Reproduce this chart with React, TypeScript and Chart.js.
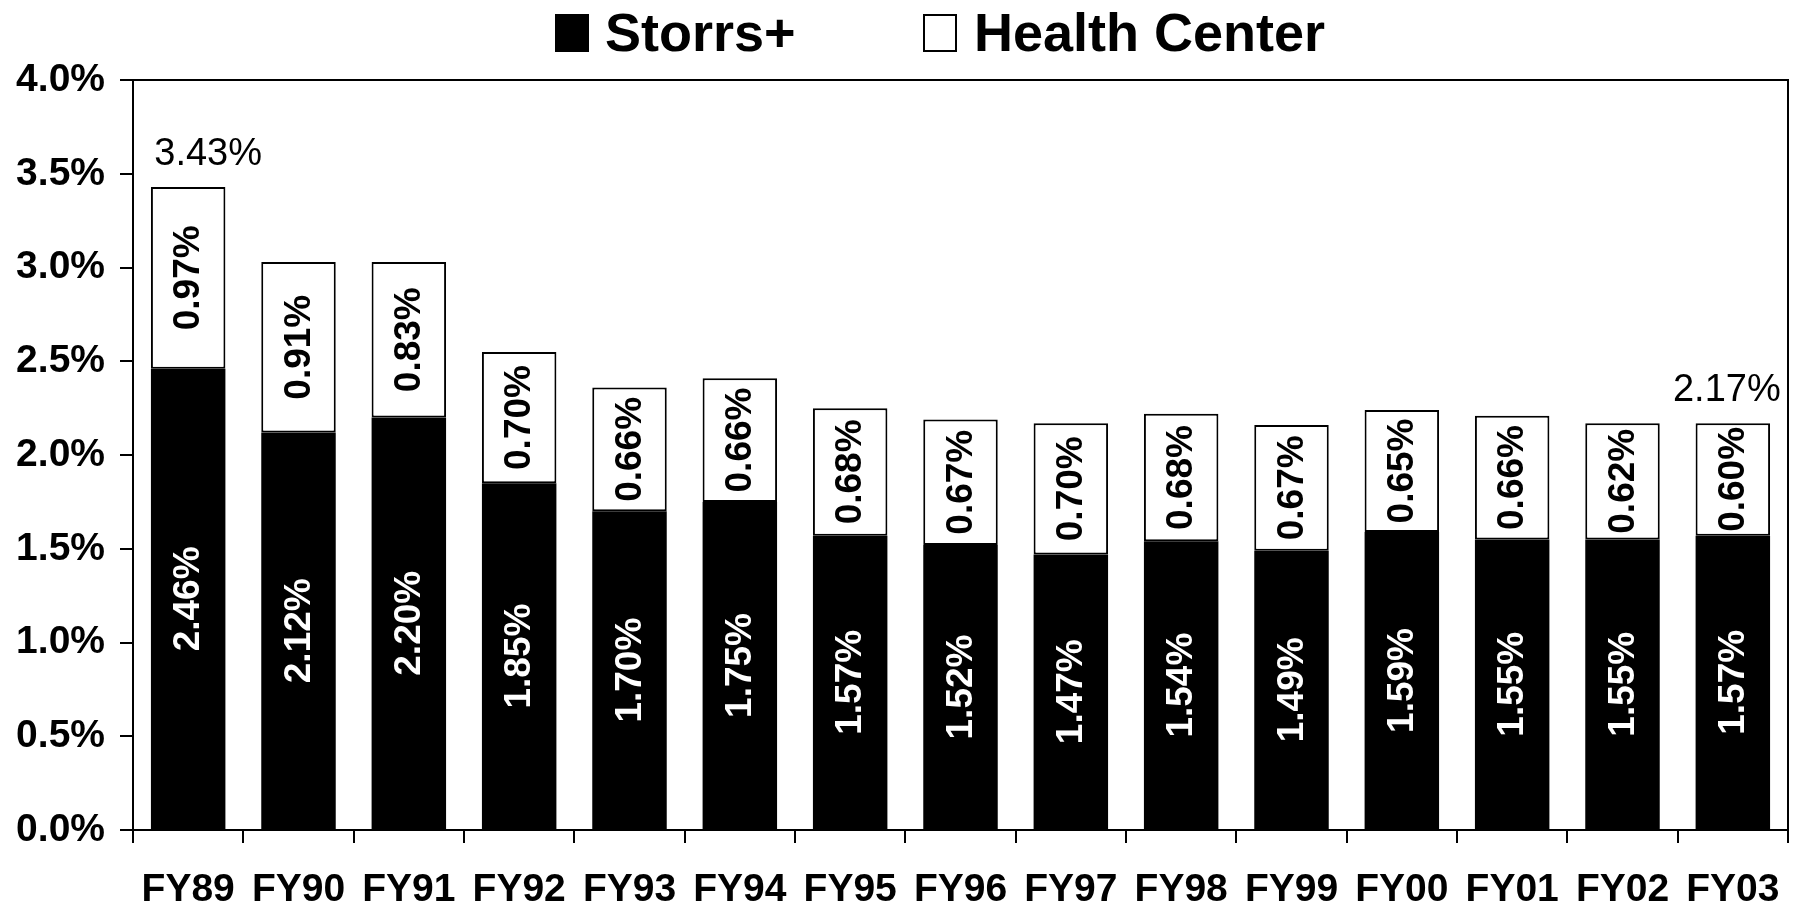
import { useEffect, useRef } from "react";
import { Chart, registerables } from "chart.js";

Chart.register(...registerables);

const categories = ["FY89", "FY90", "FY91", "FY92", "FY93", "FY94", "FY95", "FY96", "FY97", "FY98", "FY99", "FY00", "FY01", "FY02", "FY03"];
const storrsValues = [2.46, 2.12, 2.2, 1.85, 1.7, 1.75, 1.57, 1.52, 1.47, 1.54, 1.49, 1.59, 1.55, 1.55, 1.57];
const healthCenterValues = [0.97, 0.91, 0.83, 0.7, 0.66, 0.66, 0.68, 0.67, 0.7, 0.68, 0.67, 0.65, 0.66, 0.62, 0.6];
const totalLabels: (string | null)[] = ["3.43%", null, null, null, null, null, null, null, null, null, null, null, null, null, "2.17%"];
const seriesNames = ["Storrs+", "Health Center"];
const yMin = 0;
const yMax = 4;
const yStep = 0.5;

const FONT = '"Liberation Sans", Arial, Helvetica, sans-serif';

const segmentLabelPlugin = {
  id: "segmentLabels",
  afterDatasetsDraw(chart: any) {
    const ctx = chart.ctx;
    chart.data.datasets.forEach((ds: any, di: number) => {
      const meta = chart.getDatasetMeta(di);
      meta.data.forEach((el: any, i: number) => {
        const v = ds.data[i];
        const { x, y, base } = el.getProps(["x", "y", "base"], true);
        const cy = (y + base) / 2;
        ctx.save();
        ctx.translate(x, cy);
        ctx.rotate(-Math.PI / 2);
        ctx.font = `bold 37px ${FONT}`;
        ctx.fillStyle = di === 0 ? "#ffffff" : "#000000";
        ctx.textAlign = "center";
        ctx.textBaseline = "middle";
        ctx.fillText(v.toFixed(2) + "%", 0, 1);
        ctx.restore();
      });
    });
    // totals above selected bars
    const topMeta = chart.getDatasetMeta(chart.data.datasets.length - 1);
    const shifts: Record<number, number> = { 0: 20, [totalLabels.length - 1]: -6 };
    totalLabels.forEach((t, i) => {
      if (!t) return;
      const el = topMeta.data[i];
      const { x, y } = el.getProps(["x", "y"], true);
      ctx.save();
      ctx.font = `38px ${FONT}`;
      ctx.fillStyle = "#000";
      ctx.textAlign = "center";
      ctx.textBaseline = "alphabetic";
      ctx.fillText(t, x + (shifts[i] || 0), y - 22);
      ctx.restore();
    });
  },
};

const frameAndLegendPlugin = {
  id: "frameAndLegend",
  afterDraw(chart: any) {
    const ctx = chart.ctx;
    const a = chart.chartArea;
    ctx.save();
    ctx.strokeStyle = "#000";
    ctx.lineWidth = 2;
    ctx.beginPath();
    ctx.moveTo(a.left, a.top);
    ctx.lineTo(a.right, a.top);
    ctx.lineTo(a.right, a.bottom);
    ctx.stroke();

    // legend
    const items = [
      { box: 555, text: 605, fill: "#000" },
      { box: 923, text: 974, fill: "#fff" },
    ];
    items.forEach((it, i) => {
      ctx.fillStyle = it.fill;
      ctx.fillRect(it.box, 14, 34, 38);
      ctx.strokeStyle = "#000";
      ctx.lineWidth = 2;
      ctx.strokeRect(it.box + 1, 15, 32, 36);
      ctx.fillStyle = "#000";
      ctx.font = `bold 54px ${FONT}`;
      ctx.textAlign = "left";
      ctx.textBaseline = "alphabetic";
      ctx.fillText(seriesNames[i], it.text, 51);
    });
    ctx.restore();
  },
};

export default function App() {
  const ref = useRef<HTMLCanvasElement | null>(null);

  useEffect(() => {
    if (!ref.current) return;
    Chart.defaults.font.family = FONT;
    const chart = new Chart(ref.current, {
      type: "bar",
      data: {
        labels: categories,
        datasets: [
          {
            label: seriesNames[0],
            data: storrsValues,
            backgroundColor: "#000000",
            borderColor: "#000000",
            borderWidth: 0,
            barPercentage: 0.675,
            categoryPercentage: 1,
          },
          {
            label: seriesNames[1],
            data: healthCenterValues,
            backgroundColor: "#ffffff",
            borderColor: "#000000",
            borderWidth: 2,
            borderSkipped: false,
            barPercentage: 0.675,
            categoryPercentage: 1,
          },
        ],
      },
      options: {
        animation: false,
        responsive: true,
        maintainAspectRatio: false,
        layout: { padding: { top: 80, right: 11, left: 0, bottom: 0 } },
        plugins: {
          legend: { display: false },
          tooltip: { enabled: false },
          title: { display: false },
        },
        scales: {
          x: {
            stacked: true,
            offset: true,
            grid: {
              display: true,
              drawOnChartArea: false,
              drawTicks: true,
              tickLength: 13,
              color: "#000",
              lineWidth: 2,
              offset: true,
            },
            border: { display: true, color: "#000", width: 2 },
            ticks: {
              color: "#000",
              font: { size: 39, weight: "bold", family: FONT },
              padding: 24,
              maxRotation: 0,
              autoSkip: false,
            },
            afterFit: (s: any) => {
              s.height = 80;
              s.paddingLeft = 0;
              s.paddingRight = 0;
            },
          },
          y: {
            stacked: true,
            min: yMin,
            max: yMax,
            grid: {
              display: true,
              drawOnChartArea: false,
              drawTicks: true,
              tickLength: 13,
              color: "#000",
              lineWidth: 2,
            },
            border: { display: true, color: "#000", width: 2 },
            ticks: {
              stepSize: yStep,
              color: "#000",
              font: { size: 39, weight: "bold", family: FONT },
              padding: 15,
              callback: (v: any) => Number(v).toFixed(1) + "%",
            },
            afterFit: (s: any) => {
              s.width = 133;
            },
          },
        },
      },
      plugins: [segmentLabelPlugin, frameAndLegendPlugin],
    } as any);
    return () => chart.destroy();
  }, []);

  return (
    <div style={{ position: "fixed", left: 0, top: 0, width: 1799, height: 910, background: "#fff" }}>
      <canvas ref={ref} />
    </div>
  );
}
